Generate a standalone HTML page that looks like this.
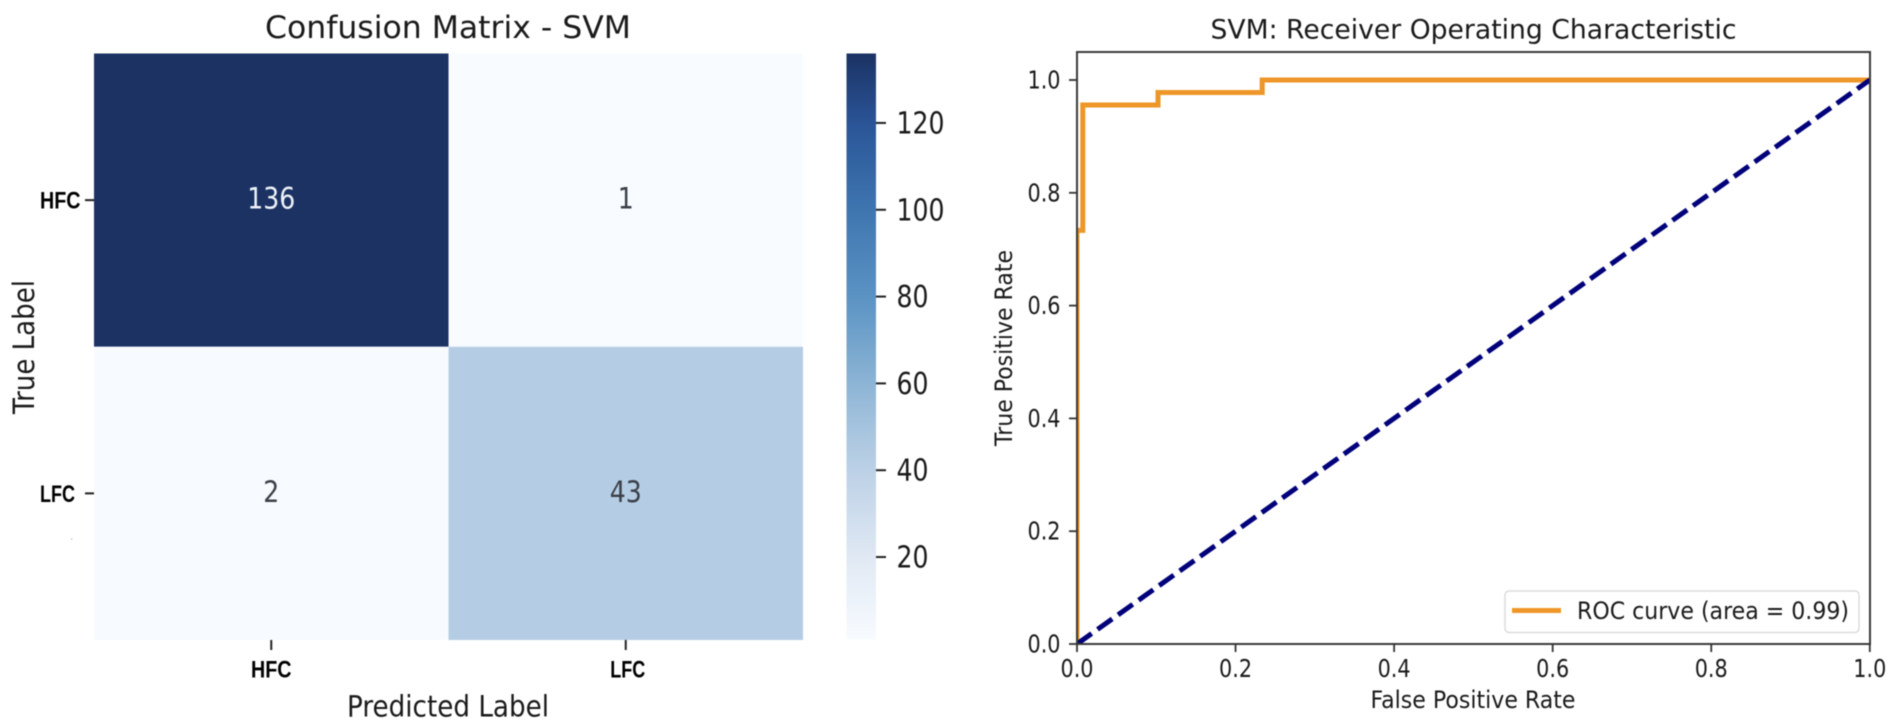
<!DOCTYPE html>
<html lang="en">
<head>
<meta charset="utf-8">
<title>SVM Confusion Matrix and ROC Curve</title>
<style>
html,body{margin:0;padding:0;background:#fff;width:1902px;height:725px;overflow:hidden}
svg{display:block;filter:blur(0.6px)}
text{font-family:"DejaVu Sans","Liberation Sans",sans-serif;fill:#1a1a1a}
.bold-tick{font-family:"Liberation Sans",sans-serif;font-weight:700;fill:#000}
</style>
</head>
<body>
<svg id="chart" xmlns="http://www.w3.org/2000/svg" width="1902" height="725" viewBox="0 0 1902 725">
  <defs>
    <linearGradient id="cbar-gradient" x1="0" y1="1" x2="0" y2="0"></linearGradient>
    <clipPath id="roc-clip"><rect x="1077" y="52" width="793" height="592"></rect></clipPath>
  </defs>
  <rect x="0" y="0" width="1902" height="725" fill="#fff"></rect>

  <g id="heatmap-panel">
    <text x="448" y="38" font-size="31" text-anchor="middle" textLength="366" lengthAdjust="spacingAndGlyphs">Confusion Matrix - SVM</text>
    <text transform="translate(34,347) rotate(-90)" font-size="29" text-anchor="middle" textLength="134" lengthAdjust="spacingAndGlyphs">True Label</text>
    <text x="448" y="716.5" font-size="29" text-anchor="middle" textLength="202" lengthAdjust="spacingAndGlyphs">Predicted Label</text>
    <rect x="71" y="538.5" width="1.2" height="1.2" fill="#aaa"></rect>
    <rect x="846.5" y="53.5" width="29.5" height="586" fill="url(#cbar-gradient)"></rect>
  </g>

  <g id="roc-panel">
    <text x="1473.5" y="38.5" font-size="27" text-anchor="middle" textLength="526" lengthAdjust="spacingAndGlyphs">SVM: Receiver Operating Characteristic</text>
    <text transform="translate(1012,348) rotate(-90)" font-size="24" text-anchor="middle" textLength="196" lengthAdjust="spacingAndGlyphs">True Positive Rate</text>
    <text x="1473" y="708" font-size="24" text-anchor="middle" textLength="205" lengthAdjust="spacingAndGlyphs">False Positive Rate</text>
    <rect x="1077" y="52" width="793" height="592" fill="#fff"></rect>
    <g id="roc-series" clip-path="url(#roc-clip)"></g>
    <rect x="1077" y="52" width="793" height="592" fill="none" stroke="#3a3a3a" stroke-width="2"></rect>
    <g id="roc-ticks"></g>
    <g>
      <rect x="1505" y="591" width="354" height="41.5" rx="4" ry="4" fill="#fff" fill-opacity="0.9" stroke="#dcdcdc" stroke-width="1.5"></rect>
      <line x1="1512" y1="610.5" x2="1561" y2="610.5" stroke="#ee9627" stroke-width="5"></line>
      <text x="1577" y="619" font-size="24" textLength="272" lengthAdjust="spacingAndGlyphs">ROC curve (area = 0.99)</text>
    </g>
  </g>
</svg>
<script>
// Confusion matrix data
var classLabels = ["HFC", "LFC"];
var rowHFC = [136, 1];
var rowLFC = [2, 43];
var colorbarTicks = [20, 40, 60, 80, 100, 120];
var colorMin = 1;
var colorMax = 136;

// ROC data
var fpr = [0, 0, 0.0073, 0.0073, 0.1022, 0.1022, 0.2336, 0.2336, 1];
var tpr = [0, 0.7333, 0.7333, 0.9556, 0.9556, 0.9778, 0.9778, 1, 1];
var chanceX = [0, 1];
var chanceY = [0, 1];
var rocTicks = [0, 0.2, 0.4, 0.6, 0.8, 1];
var rocTickLabels = ["0.0", "0.2", "0.4", "0.6", "0.8", "1.0"];

var NS = "http://www.w3.org/2000/svg";
var svg = document.getElementById("chart");
var heatPanel = document.getElementById("heatmap-panel");
var rocSeries = document.getElementById("roc-series");
var rocTickGroup = document.getElementById("roc-ticks");
var gradient = document.getElementById("cbar-gradient");

function mk(tag, attrs, parent, txt) {
  var el = document.createElementNS(NS, tag);
  for (var k in attrs) el.setAttribute(k, attrs[k]);
  if (txt !== undefined) el.textContent = txt;
  parent.appendChild(el);
  return el;
}

// Colormap, sampled by eye from the reference colorbar
var cmapPos = [0, 0.14, 0.29, 0.43, 0.585, 0.73, 0.88, 1];
var cmapRGB = [[248,251,255],[224,233,244],[188,209,230],[143,182,214],[90,147,195],[63,118,176],[42,85,151],[27,50,99]];
function cmap(t) {
  t = Math.max(0, Math.min(1, t));
  for (var i = 1; i < cmapPos.length; i++) {
    if (t <= cmapPos[i]) {
      var f = (t - cmapPos[i-1]) / (cmapPos[i] - cmapPos[i-1]);
      var a = cmapRGB[i-1], b = cmapRGB[i];
      return "rgb(" + Math.round(a[0]+(b[0]-a[0])*f) + "," + Math.round(a[1]+(b[1]-a[1])*f) + "," + Math.round(a[2]+(b[2]-a[2])*f) + ")";
    }
  }
  return "rgb(27,50,99)";
}
function normValue(v) { return (v - colorMin) / (colorMax - colorMin); }

// Axis functions
var heatLeft = 94, heatRight = 803, heatTop = 53.5, heatBottom = 640;
function colEdge(i) { return heatLeft + (heatRight - heatLeft) * i / classLabels.length; }
function rowEdge(i) { return heatTop + (heatBottom - heatTop) * i / classLabels.length; }
function cbarY(v) { return 639.5 - (v - colorMin) * (639.5 - 53.5) / (colorMax - colorMin); }
function rocX(v) { return 1077 + v * 792.8; }
function rocY(v) { return 644 - v * 564; }

// Colorbar gradient
for (var g = 0; g <= 32; g++) {
  mk("stop", {offset: (g / 32), "stop-color": cmap(g / 32)}, gradient);
}

// Heatmap cells
var matrix = [rowHFC, rowLFC];
matrix.forEach(function (row, r) {
  row.forEach(function (val, c) {
    var t = normValue(val);
    var cell = mk("rect", {x: colEdge(c), y: rowEdge(r), width: colEdge(c+1) - colEdge(c), height: rowEdge(r+1) - rowEdge(r), fill: cmap(t)}, heatPanel);
    
    
  });
});
matrix.forEach(function (row, r) {
  row.forEach(function (val, c) {
    var t = normValue(val);
    var s = String(val);
    var label = mk("text", {x: (colEdge(c) + colEdge(c+1)) / 2, y: (rowEdge(r) + rowEdge(r+1)) / 2 + 8.5, "font-size": 29, "text-anchor": "middle", textLength: s.length * 16, lengthAdjust: "spacingAndGlyphs"}, heatPanel, s);
    label.style.fill = t > 0.5 ? "#eef2f8" : "#3a3f48";
    
    
  });
});

// Heatmap category ticks
classLabels.forEach(function (name, i) {
  var cx = (colEdge(i) + colEdge(i+1)) / 2;
  var cy = (rowEdge(i) + rowEdge(i+1)) / 2;
  var w = name === "HFC" ? 40.5 : 35;

  var xt = mk("line", {x1: cx, y1: heatBottom, x2: cx, y2: heatBottom + 10, stroke: "#222", "stroke-width": 2}, heatPanel);
  
  

  var xl = mk("text", {x: cx + (i ? 2 : 0), y: 677.5, "font-size": 24, "text-anchor": "middle", textLength: w, lengthAdjust: "spacingAndGlyphs", "class": "bold-tick"}, heatPanel, name);
  
  

  var yt = mk("line", {x1: heatLeft - 9, y1: cy, x2: heatLeft, y2: cy, stroke: "#222", "stroke-width": 2}, heatPanel);
  
  

  var yl = mk("text", {x: 40, y: cy + 8.5, "font-size": 24, textLength: w, lengthAdjust: "spacingAndGlyphs", "class": "bold-tick"}, heatPanel, name);
  
  
});

// Colorbar ticks
colorbarTicks.forEach(function (v) {
  var y = cbarY(v);
  var s = String(v);
  var t = mk("line", {x1: 876, y1: y, x2: 886, y2: y, stroke: "#222", "stroke-width": 2}, heatPanel);
  
  
  var l = mk("text", {x: 896.5, y: y + 10.5, "font-size": 30, textLength: s.length * 16, lengthAdjust: "spacingAndGlyphs"}, heatPanel, s);
  
  
});

// ROC series
function polyPoints(xs, ys) {
  return xs.map(function (x, i) { return rocX(x) + "," + rocY(ys[i]); }).join(" ");
}
var rocLine = mk("polyline", {points: polyPoints(fpr, tpr), fill: "none", stroke: "#ee9627", "stroke-width": 5, "stroke-linejoin": "miter"}, rocSeries);


var chanceLine = mk("polyline", {points: polyPoints(chanceX, chanceY), fill: "none", stroke: "#00007a", "stroke-width": 5, "stroke-dasharray": "18 7.2"}, rocSeries);



// ROC ticks
rocTicks.forEach(function (v, i) {
  var x = rocX(v), y = rocY(v);
  var tx = mk("line", {x1: x, y1: 644, x2: x, y2: 652, stroke: "#333", "stroke-width": 1.8}, rocTickGroup);
  
  
  var lx = mk("text", {x: x, y: 677, "font-size": 25, "text-anchor": "middle", textLength: 33, lengthAdjust: "spacingAndGlyphs"}, rocTickGroup, rocTickLabels[i]);
  
  
  var ty = mk("line", {x1: 1069, y1: y, x2: 1077, y2: y, stroke: "#333", "stroke-width": 1.8}, rocTickGroup);
  
  
  var ly = mk("text", {x: 1060.5, y: y + 8.5, "font-size": 25, "text-anchor": "end", textLength: 33, lengthAdjust: "spacingAndGlyphs"}, rocTickGroup, rocTickLabels[i]);
  
  
});
</script>
</body>
</html>
